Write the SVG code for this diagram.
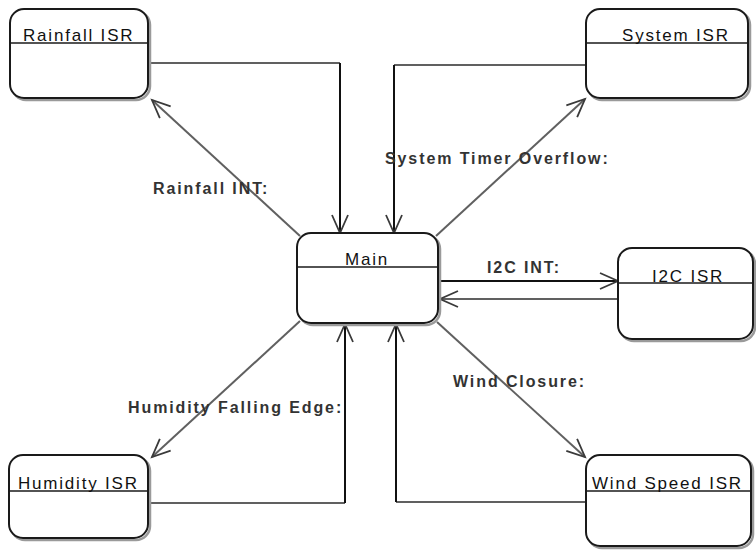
<svg xmlns="http://www.w3.org/2000/svg" width="756" height="550" viewBox="0 0 756 550">
<style>
.box{fill:#fff;stroke:#1a1a1a;stroke-width:2}
.shadow{fill:none;stroke:#9a9a9a;stroke-width:2.5}
.div{stroke:#1a1a1a;stroke-width:1.6}
.title{font-family:"Liberation Sans",Arial,sans-serif;font-size:17px;letter-spacing:1.8px;fill:#111}
.lbl{font-family:"Liberation Sans",Arial,sans-serif;font-size:16px;font-weight:bold;letter-spacing:1.9px;fill:#333}
.edge{fill:none;stroke-width:2}
.g{stroke:#606060}
.k{stroke:#111}
</style>
<defs>
<marker id="arr" markerUnits="userSpaceOnUse" markerWidth="24" markerHeight="20" refX="19" refY="9" orient="auto">
<path d="M1,1 L19,9 L1,17" fill="none" stroke="#3a3a3a" stroke-width="1.8"/>
</marker>
</defs>
<rect width="756" height="550" fill="#fff"/>

<g id="connectors">
<path class="edge g" d="M150,63 H340"/>
<path class="edge k" d="M340,63 V233" marker-end="url(#arr)"/>
<path class="edge g" d="M300,236 L152,100" marker-end="url(#arr)"/>
<path class="edge g" d="M586,65 H394"/>
<path class="edge k" d="M394,65 V233" marker-end="url(#arr)"/>
<path class="edge g" d="M436,236 L585,99" marker-end="url(#arr)"/>
<path class="edge k" d="M438,281 H618" marker-end="url(#arr)"/>
<path class="edge g" d="M618,299 H440" marker-end="url(#arr)"/>
<path class="edge g" d="M300,321 L152,457" marker-end="url(#arr)"/>
<path class="edge g" d="M150,503 H345"/>
<path class="edge k" d="M345,503 V324" marker-end="url(#arr)"/>
<path class="edge g" d="M437,322 L585,457" marker-end="url(#arr)"/>
<path class="edge g" d="M586,502 H396"/>
<path class="edge k" d="M396,502 V324" marker-end="url(#arr)"/>
<text class="lbl" x="153" y="194">Rainfall INT:</text>
<text class="lbl" x="385" y="164">System Timer Overflow:</text>
<text class="lbl" x="487" y="273">I2C INT:</text>
<text class="lbl" x="128" y="413">Humidity Falling Edge:</text>
<text class="lbl" x="453" y="387">Wind Closure:</text>
</g>

<g id="rainfall">
<rect class="shadow" x="12" y="11" width="138" height="89" rx="14"/>
<rect class="box" x="10" y="9" width="138" height="89" rx="14"/>
<line class="div" x1="10" y1="43" x2="148" y2="43"/>
<text class="title" x="23" y="41">Rainfall ISR</text>
</g>

<g id="system">
<rect class="shadow" x="588" y="11" width="162" height="89" rx="14"/>
<rect class="box" x="586" y="9" width="162" height="89" rx="14"/>
<line class="div" x1="586" y1="43" x2="748" y2="43"/>
<text class="title" x="622" y="41">System ISR</text>
</g>

<g id="main">
<rect class="shadow" x="299" y="235" width="141" height="90" rx="14"/>
<rect class="box" x="297" y="233" width="141" height="90" rx="14"/>
<line class="div" x1="297" y1="267" x2="438" y2="267"/>
<text class="title" x="345" y="265">Main</text>
</g>

<g id="i2c">
<rect class="shadow" x="620" y="250" width="135" height="91" rx="14"/>
<rect class="box" x="618" y="248" width="135" height="91" rx="14"/>
<line class="div" x1="618" y1="283" x2="753" y2="283"/>
<text class="title" x="652" y="282">I2C ISR</text>
</g>

<g id="humidity">
<rect class="shadow" x="11" y="457" width="139" height="83" rx="14"/>
<rect class="box" x="9" y="455" width="139" height="83" rx="14"/>
<line class="div" x1="9" y1="491" x2="148" y2="491"/>
<text class="title" x="18" y="489">Humidity ISR</text>
</g>

<g id="windspeed">
<rect class="shadow" x="588" y="457" width="165" height="91" rx="14"/>
<rect class="box" x="586" y="455" width="165" height="91" rx="14"/>
<line class="div" x1="586" y1="491" x2="751" y2="491"/>
<text class="title" x="592" y="489">Wind Speed ISR</text>
</g>
</svg>
